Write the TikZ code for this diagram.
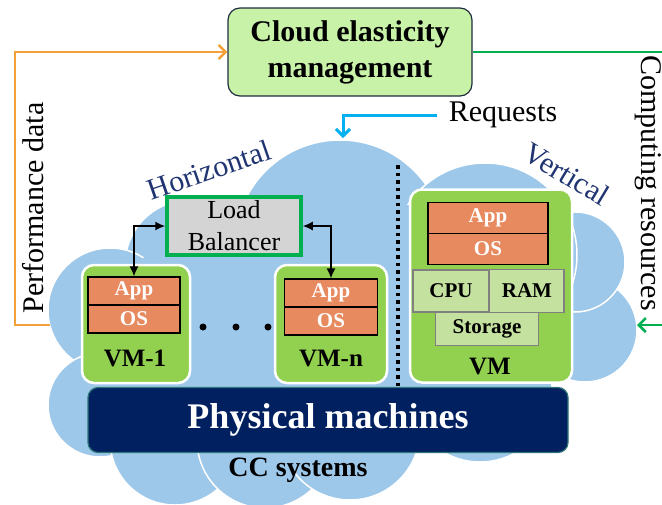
\documentclass[tikz,border=0pt]{standalone}
\usepackage{fontspec}
\setmainfont{Liberation Serif}
\usepackage{xcolor}
\usepackage{tikz}
\usetikzlibrary{arrows.meta}
\definecolor{cloudblue}{HTML}{9DC8EA}
\definecolor{mgmtgreen}{HTML}{C9F2A9}
\definecolor{mgmtedge}{HTML}{1F2D3D}
\definecolor{vmgreen}{HTML}{92D050}
\definecolor{appred}{HTML}{E88A5F}
\definecolor{resgreen}{HTML}{C5E1A0}
\definecolor{lbgrey}{HTML}{D4D4D4}
\definecolor{lbgreen}{HTML}{00B050}
\definecolor{pmnavy}{HTML}{002060}
\definecolor{pmedge}{HTML}{2E7578}
\definecolor{perforange}{HTML}{F2A13A}
\definecolor{reqblue}{HTML}{00B0F0}
\definecolor{labelnavy}{HTML}{1F3470}

\begin{document}
\begin{tikzpicture}[x=1pt,y=-1pt,
    bump/.style={fill=cloudblue,draw=white,line width=1.5pt},
    vmbox/.style={draw=white,line width=2.5pt,fill=vmgreen,rounded corners=12pt,inner sep=0pt},
    layer/.style={draw=black,line width=1.2pt,fill=appred,text=white,inner sep=0pt,
      font=\bfseries\fontsize{21}{24}\selectfont,minimum height=28pt},
    res/.style={draw=gray,line width=1.5pt,fill=resgreen,inner sep=0pt,
      font=\bfseries\fontsize{21}{24}\selectfont},
    vmlabel/.style={font=\bfseries\fontsize{25}{28}\selectfont},
    sidelabel/.style={font=\fontsize{30}{36}\selectfont},
    openarrow/.style={-{Straight Barb[length=7pt,width=14pt]},line width=2.5pt},
    lbarrow/.style={{Latex[length=10pt,width=9pt]}-{Latex[length=10pt,width=9pt]},line width=1.6pt}]
  \useasboundingbox (0,0) rectangle (662,504);

  \foreach \cx/\cy/\r in {190/265/65, 110/310/62, 100/405/52, 175/440/65, 265/440/68,
      350/430/70, 480/390/72, 585/330/52, 575/262/50, 340/245/105, 485/255/92}
    \draw[bump] (\cx,\cy) circle[radius=\r pt];
  \fill[cloudblue] (150,250) -- (250,205) -- (415,205) -- (555,262) -- (578,332)
    -- (525,400) -- (300,468) -- (150,440) -- (92,400) -- (92,320) -- cycle;

  \node[draw=mgmtedge,line width=1.2pt,fill=mgmtgreen,rounded corners=12pt,
    minimum width=244pt,minimum height=88pt,align=center,
    font=\bfseries\fontsize{30}{36}\selectfont] (cem) at (350,52)
    {Cloud elasticity\\management};

  \node[sidelabel,rotate=90] (perf) at (33,208) {Performance data};
  \node[sidelabel,rotate=-90] (comp) at (648,183) {Computing resources};
  \node[sidelabel,inner xsep=12pt] (req) at (503,115) {Requests};

  \coordinate (perfend) at (50,325);
  \coordinate (compend) at (637,325);
  \coordinate (reqend) at (343,138);
  \draw[openarrow,perforange] (perfend) -- ++(-35,0) |- (cem.west);
  \draw[openarrow,lbgreen] (cem.east) -- ++(192,0) |- (compend);
  \draw[openarrow,reqblue,line width=3pt] (req.west) -| (reqend);

  \node[sidelabel,text=labelnavy,rotate=19] (horiz) at (209,170) {Horizontal};
  \node[sidelabel,text=labelnavy,rotate=-31] (vert) at (567,174) {Vertical};

  \coordinate (septop) at (398,165);
  \draw[line width=3.5pt,dash pattern=on 3.5pt off 4pt] (septop) -- (398,387);

  \node[draw=lbgreen,line width=3.5pt,fill=lbgrey,minimum width=134pt,minimum height=58pt,
    align=center,inner sep=0pt,font=\fontsize{26}{32}\selectfont] (lb) at (234,226)
    {Load\\Balancer};

  \node[vmbox,minimum width=108pt,minimum height=118pt] (vm1) at (136,324) {};
  \node[vmbox,minimum width=112pt,minimum height=118pt] (vmn) at (331,324) {};
  \node[vmbox,minimum width=162pt,minimum height=193pt] (vmv) at (491,286) {};

  \node[layer,minimum width=92pt] (app1) at (134,291) {App};
  \node[layer,minimum width=92pt] (os1) at (134,319) {OS};
  \node[layer,minimum width=93pt] (appn) at (331,293) {App};
  \node[layer,minimum width=93pt] (osn) at (331,321) {OS};
  \node[layer,minimum width=120pt,minimum height=31pt] (appv) at (488,218) {App};
  \node[layer,minimum width=120pt,minimum height=31pt] (osv) at (488,249) {OS};

  \node[res,minimum width=82pt,minimum height=43pt,text width=58pt,align=right] (ram) at (523,291) {RAM};
  \node[res,minimum width=76pt,minimum height=42pt] (cpu) at (451,291) {CPU};
  \node[res,minimum width=103pt,minimum height=33pt] (sto) at (487,329) {Storage};

  \node[vmlabel] (vm1lbl) at (135,358) {VM-1};
  \node[vmlabel] (vmnlbl) at (331,358) {VM-n};
  \node[vmlabel] (vmvlbl) at (490,366) {VM};

  \foreach \dx in {203,236,268}
    \fill (\dx,327) circle[radius=3.5pt];

  \draw[lbarrow] (lb.west) -| (app1.north);
  \draw[lbarrow] (lb.east) -| (appn.north);

  \node[draw=pmedge,line width=1.2pt,fill=pmnavy,rounded corners=10pt,text=white,
    minimum width=480pt,minimum height=65pt,font=\bfseries\fontsize{36}{40}\selectfont]
    (pm) at (328,420) {Physical machines};
  \node[font=\bfseries\fontsize{28}{32}\selectfont] (cc) at (298,470) {CC systems};
\end{tikzpicture}
\end{document}
